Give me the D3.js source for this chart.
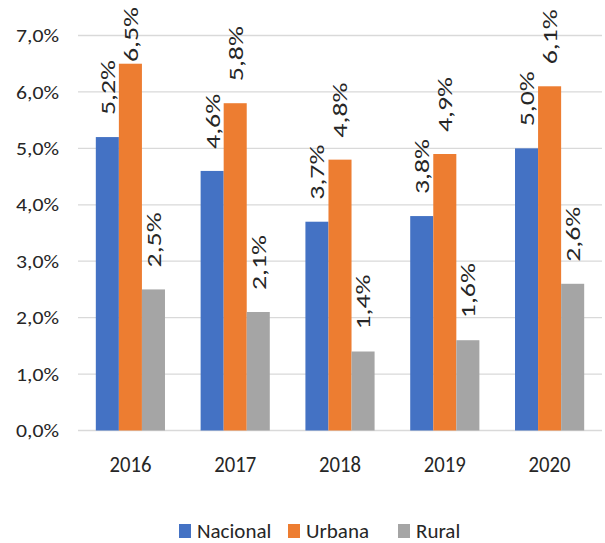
<!DOCTYPE html>
<html>
<head>
<meta charset="utf-8">
<script src="https://cdn.jsdelivr.net/npm/d3@7"></script>
<style>
  body { margin: 0; background: #fff; }
  text { font-family: Carlito, Lato, "Liberation Sans", sans-serif; fill: #262626; }
</style>
</head>
<body>
<div id="chart"></div>
<script>
// data
const years = ["2016", "2017", "2018", "2019", "2020"];
const seriesNames = ["Nacional", "Urbana", "Rural"];
const nacional = [5.2, 4.6, 3.7, 3.8, 5.0];
const urbana = [6.5, 5.8, 4.8, 4.9, 6.1];
const rural = [2.5, 2.1, 1.4, 1.6, 2.6];
const yTicks = [0, 1, 2, 3, 4, 5, 6, 7];

const colors = ["#4472C4", "#ED7D31", "#A5A5A5"];
const values = [nacional, urbana, rural];

//size
const W = 605, H = 543;
const margin = { top: 35.5, right: 3, bottom: 112.5, left: 78 };
const width = W - margin.left - margin.right,
  height = H - margin.top - margin.bottom;

const svg = d3.select("#chart").append("svg")
  .attr("width", W).attr("height", H);
const g = svg.append("g")
  .attr("transform", "translate(" + margin.left + "," + margin.top + ")");

const x = d3.scaleBand().domain(years).range([0, width]).paddingInner(0.34).paddingOuter(0.17);
const xs = d3.scaleBand().domain(seriesNames).range([0, x.bandwidth()]);
const y = d3.scaleLinear().domain([0, 7]).range([height, 0]);

const fmt = v => d3.format(".1f")(v).replace(".", ",") + "%";

//gridlines
g.selectAll(".grid").data(yTicks).enter().append("line")
  .attr("x1", 0).attr("x2", width)
  .attr("y1", d => y(d)).attr("y2", d => y(d))
  .attr("stroke", "#d9d9d9").attr("stroke-width", 1.3);

//y labels (stretched a bit to match the wide original font)
g.selectAll(".ytick").data(yTicks).enter().append("text")
  .attr("x", -19).attr("y", d => y(d)).attr("dy", "0.35em")
  .attr("text-anchor", "end").style("font-size", "19px")
  .attr("textLength", 43).attr("lengthAdjust", "spacingAndGlyphs")
  .text(d => fmt(d));

//bars
const rows = years.map((yr, i) => ({ year: yr, vals: seriesNames.map((s, j) => ({ s, j, v: values[j][i] })) }));
const grp = g.selectAll(".yr").data(rows).enter().append("g")
  .attr("transform", d => "translate(" + x(d.year) + ",0)");

grp.selectAll("rect").data(d => d.vals).enter().append("rect")
  .attr("x", d => xs(d.s)).attr("width", xs.bandwidth())
  .attr("y", d => y(d.v)).attr("height", d => height - y(d.v))
  .attr("fill", d => colors[d.j]);

//data labels, rotated; kept inside the chart top
grp.selectAll(".lbl").data(d => d.vals).enter().append("text")
  .attr("transform", d => {
    const ty = Math.max(y(d.v) - 22, -margin.top + 62);
    return "translate(" + (xs(d.s) + xs.bandwidth() / 2) + "," + ty + ") rotate(-90)";
  })
  .attr("dy", "0.35em").attr("text-anchor", "start")
  .style("font-size", "21px")
  .attr("textLength", 55).attr("lengthAdjust", "spacingAndGlyphs")
  .text(d => fmt(d.v));

//x labels
g.selectAll(".xl").data(years).enter().append("text")
  .attr("x", d => x(d) + x.bandwidth() / 2).attr("y", height + 41)
  .attr("text-anchor", "middle").style("font-size", "22px")
  .attr("textLength", 42).attr("lengthAdjust", "spacingAndGlyphs")
  .text(d => d);

//legend
const legX = [179, 288, 398];
const leg = svg.selectAll(".leg").data(seriesNames).enter().append("g")
  .attr("transform", (d, i) => "translate(" + legX[i] + "," + 524 + ")");
leg.append("rect").attr("width", 12).attr("height", 14).attr("fill", (d, i) => colors[i]);
leg.append("text").attr("x", 18).attr("y", 7).attr("dy", "0.35em")
  .style("font-size", "21px").text(d => d);
</script>
</body>
</html>
